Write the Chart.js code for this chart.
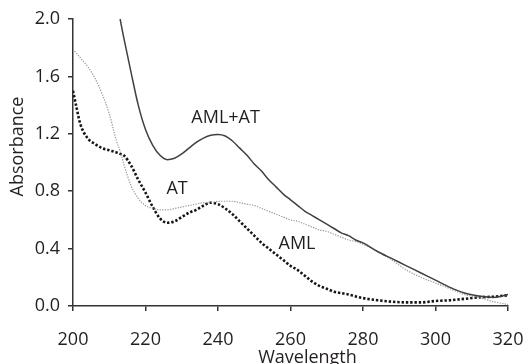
<!DOCTYPE html>
<html>
<head>
<meta charset="utf-8">
<script src="https://cdn.jsdelivr.net/npm/chart.js@4"></script>
<style>
  html, body { margin: 0; padding: 0; background: #fff; }
  #wrap { width: 525px; height: 364px; }
</style>
</head>
<body>
<div id="wrap"><canvas id="absChart"></canvas></div>
<script>
// wavelength grid (nm)
const wavelengths = [200, 201, 202, 204, 206, 208, 210, 212, 213, 214, 216, 218, 220, 222, 224, 226, 228, 230,
    232, 234, 236, 238, 240, 242, 244, 246, 248, 250, 252, 254, 256, 258, 260, 262, 264, 266, 268, 270,
    272, 274, 276, 278, 280, 284, 288, 292, 296, 300, 304, 308, 312, 316, 320];

// AML+AT (solid), off the top of the plot before 213 nm
const amlAt = [null, null, null, null, null, null, null, null, 2.0, 1.87, 1.63, 1.40, 1.23, 1.12, 1.05, 1.02, 1.03, 1.06,
    1.10, 1.14, 1.17, 1.19, 1.195, 1.185, 1.15, 1.10, 1.05, 0.99, 0.94, 0.88, 0.83, 0.78, 0.74, 0.70, 0.66, 0.63, 0.60, 0.57,
    0.54, 0.51, 0.49, 0.46, 0.44, 0.38, 0.33, 0.28, 0.23, 0.18, 0.13, 0.09, 0.07, 0.06, 0.08];

// AT (thin grey dots)
const at = [1.79, 1.76, 1.73, 1.67, 1.59, 1.48, 1.34, 1.15, 1.08, 0.99, 0.84, 0.75, 0.70, 0.68, 0.67, 0.67, 0.68, 0.69,
    0.70, 0.71, 0.72, 0.72, 0.73, 0.73, 0.73, 0.72, 0.71, 0.70, 0.68, 0.66, 0.64, 0.62, 0.60, 0.59, 0.57, 0.55, 0.53, 0.52,
    0.50, 0.48, 0.46, 0.45, 0.43, 0.38, 0.32, 0.25, 0.20, 0.16, 0.12, 0.08, 0.06, 0.03, 0.01];

// AML (heavy black dots)
const aml = [1.50, 1.38, 1.27, 1.17, 1.13, 1.10, 1.085, 1.07, 1.06, 1.05, 0.98, 0.88, 0.79, 0.69, 0.61, 0.58, 0.59, 0.62,
    0.65, 0.67, 0.70, 0.72, 0.71, 0.68, 0.64, 0.59, 0.54, 0.49, 0.44, 0.40, 0.36, 0.32, 0.28, 0.25, 0.21, 0.17, 0.14, 0.12,
    0.10, 0.09, 0.08, 0.067, 0.055, 0.04, 0.03, 0.025, 0.025, 0.035, 0.04, 0.05, 0.06, 0.065, 0.075];

const xTicks = [200, 220, 240, 260, 280, 300, 320];
const yTicks = [0.0, 0.4, 0.8, 1.2, 1.6, 2.0];

// curve names written next to each curve (in data units)
const curveLabels = ["AML+AT", "AT", "AML"];
const curveLabelX = [242.1, 228.7, 261.8];
const curveLabelY = [1.31, 0.815, 0.43];

const FONT = "'Open Sans', 'Noto Sans', sans-serif";
const TEXT = "#231f20";
const AXIS = "#333333";

function toPoints(values) {
    return wavelengths.map((w, i) => ({ x: w, y: values[i] }));
}

// draws the curve names and both axis titles
const textPlugin = {
    id: "curveText",
    afterDraw(chart) {
        let ctx = chart.ctx;
        let xs = chart.scales.x, ys = chart.scales.y;
        ctx.save();
        ctx.fillStyle = TEXT;
        ctx.font = "18px " + FONT;
        ctx.textAlign = "center";
        ctx.textBaseline = "middle";
        curveLabels.forEach((txt, i) => {
            ctx.fillText(txt, xs.getPixelForValue(curveLabelX[i]), ys.getPixelForValue(curveLabelY[i]));
        });

        // x title
        ctx.textBaseline = "alphabetic";
        ctx.fillText("Wavelength", 307.5, 363);

        // y title
        ctx.translate(23, 146.5);
        ctx.rotate(-Math.PI / 2);
        ctx.fillText("Absorbance", 0, 0);
        ctx.restore();
    }
};

let ctx = document.getElementById("absChart").getContext("2d");
let absChart = new Chart(ctx, {
    type: "line",
    data: {
        datasets: [
            {
                label: "AML+AT",
                data: toPoints(amlAt),
                borderColor: "#404040",
                borderWidth: 1.5,
                pointRadius: 0,
                cubicInterpolationMode: "monotone",
                spanGaps: false
            },
            {
                label: "AT",
                data: toPoints(at),
                borderColor: "#9a9a9a",
                borderWidth: 1.2,
                borderDash: [1.3, 1.3],
                pointRadius: 0,
                cubicInterpolationMode: "monotone"
            },
            {
                label: "AML",
                data: toPoints(aml),
                borderColor: "#151515",
                borderWidth: 2.6,
                borderDash: [2.4, 1.9],
                pointRadius: 0,
                cubicInterpolationMode: "monotone"
            }
        ]
    },
    options: {
        responsive: true,
        maintainAspectRatio: false,
        animation: false,
        events: [],
        layout: { padding: { top: 19, right: 17, left: 0, bottom: 0 } },
        plugins: {
            legend: { display: false },
            tooltip: { enabled: false }
        },
        scales: {
            x: {
                type: "linear",
                min: 200,
                max: 320,
                afterBuildTicks: scale => { scale.ticks = xTicks.map(v => ({ value: v })); },
                afterFit: scale => {
                    scale.height = 58;
                    scale.paddingLeft = 0;
                    scale.paddingRight = 0;
                },
                ticks: {
                    color: TEXT,
                    font: { family: FONT, size: 18 },
                    padding: 18,
                    maxRotation: 0
                },
                grid: { drawOnChartArea: false, tickLength: 5, color: AXIS, lineWidth: 1.5 },
                border: { color: AXIS, width: 1.5 }
            },
            y: {
                min: 0,
                max: 2,
                afterBuildTicks: scale => { scale.ticks = yTicks.map(v => ({ value: v })); },
                afterFit: scale => {
                    scale.width = 73;
                    scale.paddingTop = 0;
                    scale.paddingBottom = 0;
                },
                ticks: {
                    color: TEXT,
                    font: { family: FONT, size: 18 },
                    padding: 8,
                    callback: v => v.toFixed(1)
                },
                grid: { drawOnChartArea: false, tickLength: 5, color: AXIS, lineWidth: 1.5 },
                border: { color: AXIS, width: 1.5 }
            }
        }
    },
    plugins: [textPlugin]
});
</script>
</body>
</html>
